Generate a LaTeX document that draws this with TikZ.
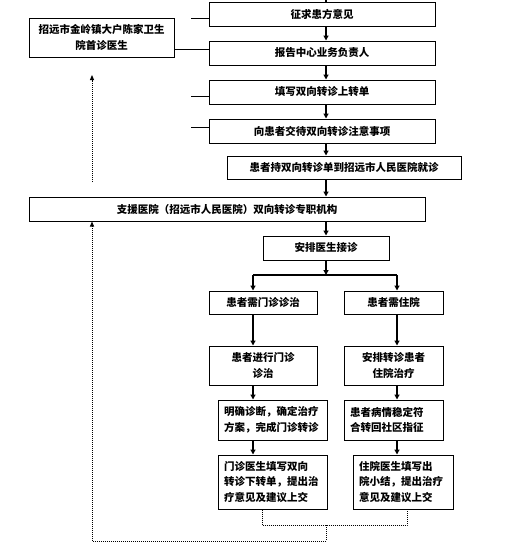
\documentclass[tikz,border=0pt]{standalone}
\usepackage{fontspec}
\setmainfont{Noto Sans CJK SC}
\usetikzlibrary{arrows.meta}
\begin{document}
\begin{tikzpicture}[x=1pt,y=-1pt,
		box/.style={draw,line width=1pt,inner sep=2pt,font=\bfseries\fontsize{10.5}{15.5}\selectfont},
		arr/.style={line width=1.2pt,-{Triangle[length=5pt,width=5pt]}},
		dots/.style={line width=1pt,densely dotted}]
			\useasboundingbox (0,0) rectangle (507,554);
			\node[box,minimum width=226,minimum height=24] (ask) at (322,14) {征求患方意见};
			\node[box,minimum width=226,minimum height=24] (report) at (322,53) {报告中心业务负责人};
			\node[box,minimum width=226,minimum height=24] (fill) at (322,92) {填写双向转诊上转单};
			\node[box,minimum width=226,minimum height=24] (tell) at (322,131) {向患者交待双向转诊注意事项};
			\node[box,minimum width=145,minimum height=39,align=center] (clinic) at (101.5,37.5) {招远市金岭镇大户陈家卫生\\院首诊医生};
			\node[box,minimum width=234,minimum height=23] (visit) at (344,167.5) {患者持双向转诊单到招远市人民医院就诊};
			\node[box,minimum width=396,minimum height=24] (support) at (227,209) {支援医院（招远市人民医院）双向转诊专职机构};
			\node[box,minimum width=126,minimum height=24] (arrange) at (326,248) {安排医生接诊};
			\node[box,minimum width=108,minimum height=23] (outp) at (263,302.5) {患者需门诊诊治};
			\node[box,minimum width=99,minimum height=23] (inp) at (393.5,302.5) {患者需住院};
			\node[box,minimum width=108,minimum height=39,align=center] (outtreat) at (263,365.5) {患者进行门诊\\诊治};
			\node[box,minimum width=99,minimum height=39,align=center] (intreat) at (393.5,365.5) {安排转诊患者\\住院治疗};
			\node[box,minimum width=109,minimum height=40,text width=97pt,align=left] (diag) at (272.5,420) {明确诊断，确定治疗\\方案，完成门诊转诊};
			\node[box,minimum width=99,minimum height=40,text width=87pt,align=left] (stable) at (393.5,420) {患者病情稳定符\\合转回社区指征};
			\node[box,minimum width=109,minimum height=54,text width=97pt,align=left] (outdoc) at (272.5,482) {门诊医生填写双向\\转诊下转单，提出治\\疗意见及建议上交};
			\node[box,minimum width=100,minimum height=54,text width=88pt,align=left] (indoc) at (403,482) {住院医生填写出\\院小结，提出治疗\\意见及建议上交};
			\coordinate (top) at (326,0);
			\coordinate (lx) at (253,0);
			\coordinate (rx) at (397,0);
			\coordinate (fork) at (326,275);
			\draw[line width=1.2pt] (top) -- (ask.north -| top);
			\draw[arr] (ask.south -| top) -- (report.north -| top);
			\draw[arr] (report.south -| top) -- (fill.north -| top);
			\draw[arr] (fill.south -| top) -- (tell.north -| top);
			\draw[arr] (tell.south -| top) -- (visit.north -| top);
			\draw[arr] (visit.south -| top) -- (support.north -| top);
			\draw[arr] (support.south -| top) -- (arrange.north -| top);
			\draw[arr] (arrange.south) -- (fork);
			\draw[line width=1.2pt] (fork -| lx) -- (fork -| rx);
			\draw[arr] (fork -| lx) -- (outp.north -| lx);
			\draw[arr] (fork -| rx) -- (inp.north -| rx);
			\draw[arr] (outp.south -| lx) -- (outtreat.north -| lx);
			\draw[arr] (inp.south -| rx) -- (intreat.north -| rx);
			\draw[arr] (outtreat.south -| lx) -- (diag.north -| lx);
			\draw[arr] (intreat.south -| rx) -- (stable.north -| rx);
			\draw[arr] (diag.south -| lx) -- (outdoc.north -| lx);
			\draw[arr] (stable.south -| rx) -- (indoc.north -| rx);
			\coordinate (s1) at (191,18);
			\coordinate (s2) at (174,49);
			\coordinate (s3) at (191,96);
			\coordinate (s4) at (191,127);
			\draw[line width=1pt] (s1) -- (s1 -| ask.west);
			\draw[line width=1pt] (s2) -- (s2 -| report.west);
			\draw[line width=1pt] (s3) -- (s3 -| fill.west);
			\draw[line width=1pt] (s4) -- (s4 -| tell.west);
			\coordinate (d1) at (92,182);
			\coordinate (d2) at (92,75);
			\draw[dots,-{Triangle[length=5pt,width=4pt]}] (d1) -- (d2);
			\coordinate (j1) at (262,525);
			\coordinate (j2) at (407,525);
			\coordinate (j3) at (326,541);
			\coordinate (j4) at (92,541);
			\draw[dots] (outdoc.south -| j1) -- (j1) -- (j2) -- (indoc.south -| j2);
			\draw[dots,-{Triangle[length=5pt,width=4pt]}] (j3 |- j1) -- (j3) -- (j4) -- (support.south -| j4);
		\end{tikzpicture}
\end{document}
